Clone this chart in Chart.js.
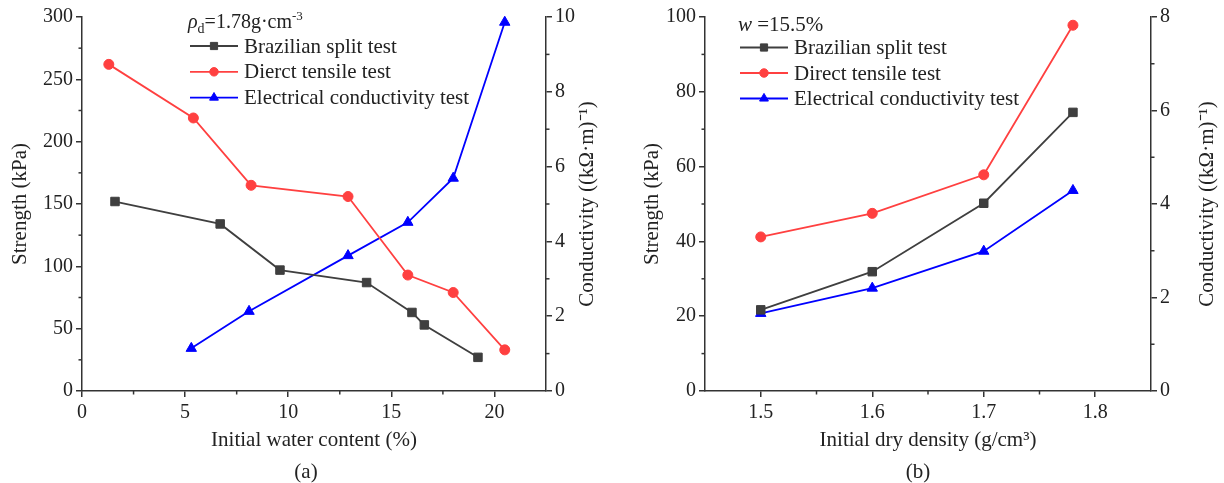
<!DOCTYPE html>
<html>
<head>
<meta charset="utf-8">
<script src="https://cdn.jsdelivr.net/npm/chart.js@4.4.1/dist/chart.umd.min.js"></script>
<style>
  body { margin: 0; background: #fff; }
  #wrap { position: relative; width: 1224px; height: 483px; overflow: hidden; }
  #wrap canvas { position: absolute; top: 0; }
  #chart-a { left: 0; }
  #chart-b { left: 612px; }
</style>
</head>
<body>
<div id="wrap">
  <canvas id="chart-a" width="612" height="483"></canvas>
  <canvas id="chart-b" width="612" height="483"></canvas>
</div>
<script>
// (a) dry density fixed at 1.78 g/cm3, water content varied
const waterBrazilian = [1.6, 6.7, 9.6, 13.8, 16.0, 16.6, 19.2];
const strengthBrazilianA = [152, 134, 97, 87, 63, 53, 27];
const waterTensile = [1.3, 5.4, 8.2, 12.9, 15.8, 18.0, 20.5];
const strengthTensileA = [262, 219, 165, 156, 93, 79, 33];
const waterConductivity = [5.3, 8.1, 12.9, 15.8, 18.0, 20.5];
const conductivityA = [1.14, 2.13, 3.62, 4.51, 5.69, 9.86];

// (b) water content fixed at 15.5 %, dry density varied
const dryDensity = [1.5, 1.6, 1.7, 1.78];
const strengthBrazilianB = [21.7, 31.9, 50.2, 74.5];
const strengthTensileB = [41.2, 47.5, 57.8, 97.8];
const conductivityB = [1.66, 2.2, 2.99, 4.29];

const serif = "'Liberation Serif', 'Times New Roman', serif";
Chart.defaults.font.family = serif;
Chart.defaults.color = '#222';

const AXIS = '#333';
const GRAY = '#3f3f3f';
const RED = '#ff4040';
const BLUE = '#0000ff';

const pairs = (xs, ys) => xs.map((x, i) => ({ x: x, y: ys[i] }));

function series(label, points, color, style, radius, axis) {
  return {
    label: label,
    data: points,
    yAxisID: axis,
    borderColor: color,
    backgroundColor: color,
    pointBackgroundColor: color,
    pointBorderColor: color,
    pointStyle: style,
    pointRadius: radius,
    pointBorderWidth: 1,
    borderWidth: 1.8,
    tension: 0,
    clip: false,
  };
}

function axis(position, min, max, step, width, fmt, title) {
  const s = {
    type: 'linear',
    position: position,
    min: min,
    max: max,
    border: { display: true, color: AXIS, width: 1.5 },
    grid: { display: true, drawOnChartArea: false, drawTicks: true, tickLength: 6, color: AXIS, tickColor: AXIS, lineWidth: 1.5 },
    ticks: { stepSize: step, includeBounds: false, autoSkip: false, maxRotation: 0, padding: 3, color: '#222', font: { size: 20 }, callback: fmt },
    // major ticks on whole multiples of the step, whatever the axis ends are
    afterBuildTicks: sc => {
      const out = [];
      for (let k = Math.ceil(min / step - 1e-6); k * step <= max + 1e-9; k++) {
        out.push({ value: +(k * step).toFixed(6) });
      }
      sc.ticks = out;
    },
  };
  if (position === 'bottom') {
    s.afterFit = sc => { sc.height = width; };
    s.ticks.padding = 4;
  } else {
    s.afterFit = sc => { sc.width = width; };
  }
  if (title) s.title = title;
  return s;
}

// short unlabeled ticks between the major ones
const minorTicks = {
  id: 'minorTicks',
  afterDraw(chart, args, opts) {
    const ctx = chart.ctx, a = chart.chartArea;
    ctx.save();
    ctx.strokeStyle = AXIS;
    ctx.lineWidth = 1.5;
    Object.keys(opts.steps || {}).forEach(id => {
      const sc = chart.scales[id], step = opts.steps[id], major = sc.options.ticks.stepSize;
      for (let k = Math.ceil(sc.min / step - 1e-6); k * step <= sc.max + 1e-9; k++) {
        const v = k * step;
        if (Math.abs(v / major - Math.round(v / major)) < 1e-6) continue;
        if (Math.abs(v - sc.min) < 1e-9 || Math.abs(v - sc.max) < 1e-9) continue;
        const p = sc.getPixelForValue(v);
        ctx.beginPath();
        if (sc.position === 'bottom') { ctx.moveTo(p, a.bottom); ctx.lineTo(p, a.bottom + 3.5); }
        else if (sc.position === 'left') { ctx.moveTo(a.left, p); ctx.lineTo(a.left - 3.5, p); }
        else { ctx.moveTo(a.right, p); ctx.lineTo(a.right + 3.5, p); }
        ctx.stroke();
      }
    });
    ctx.restore();
  }
};

// right-hand axis title, read bottom to top
const sideTitle = {
  id: 'sideTitle',
  afterDraw(chart, args, opts) {
    const ctx = chart.ctx, a = chart.chartArea;
    ctx.save();
    ctx.translate(opts.x, (a.top + a.bottom) / 2);
    ctx.rotate(-Math.PI / 2);
    ctx.font = '21px ' + serif;
    ctx.fillStyle = '#222';
    ctx.textAlign = 'center';
    ctx.textBaseline = 'middle';
    ctx.fillText(opts.text, 0, 0);
    ctx.restore();
  }
};

function drawRich(ctx, x, y, parts) {
  parts.forEach(p => {
    ctx.font = (p.italic ? 'italic ' : '') + (p.size || 20) + 'px ' + serif;
    ctx.fillText(p.t, x, y + (p.dy || 0));
    x += ctx.measureText(p.t).width;
  });
}

// legend inside the plot: header line, then one row per dataset
const insetLegend = {
  id: 'insetLegend',
  afterDraw(chart, args, opts) {
    const ctx = chart.ctx;
    ctx.save();
    ctx.fillStyle = '#222';
    ctx.textAlign = 'left';
    ctx.textBaseline = 'alphabetic';
    drawRich(ctx, opts.x - 2, opts.headerY, opts.header);
    chart.data.datasets.forEach((ds, i) => {
      const y = opts.top + i * opts.gap;
      ctx.strokeStyle = ds.borderColor;
      ctx.lineWidth = ds.borderWidth;
      ctx.beginPath();
      ctx.moveTo(opts.x, y);
      ctx.lineTo(opts.x + 48, y);
      ctx.stroke();
      ctx.fillStyle = ds.pointBackgroundColor;
      ctx.strokeStyle = ds.pointBorderColor;
      ctx.lineWidth = 1;
      Chart.helpers.drawPoint(ctx, { pointStyle: ds.pointStyle, radius: ds.pointRadius * 0.85, rotation: 0, borderWidth: 1 }, opts.x + 24, y);
      ctx.fillStyle = '#222';
      ctx.font = '21px ' + serif;
      ctx.textBaseline = 'middle';
      ctx.fillText(ds.label, opts.x + 54, y + 1);
      ctx.textBaseline = 'alphabetic';
    });
    ctx.restore();
  }
};

const xTitle = text => ({ display: true, text: text, color: '#222', font: { size: 21 }, padding: { top: 0, bottom: 8 } });
const yTitle = (text, pad) => ({ display: true, text: text, color: '#222', font: { size: 21 }, padding: { top: pad, bottom: 0 } });
const caption = text => ({ display: true, position: 'bottom', text: text, color: '#222', font: { size: 21, weight: 'normal', lineHeight: 1 }, padding: 0 });
const oneDecimal = v => v.toFixed(1);
const plain = v => String(Math.round(v));

// (a)
new Chart(document.getElementById('chart-a'), {
  type: 'line',
  data: {
    datasets: [
      series('Brazilian split test', pairs(waterBrazilian, strengthBrazilianA), GRAY, 'rect', 6, 'y'),
      series('Dierct tensile test', pairs(waterTensile, strengthTensileA), RED, 'circle', 5, 'y'),
      series('Electrical conductivity test', pairs(waterConductivity, conductivityA), BLUE, 'triangle', 6, 'y1'),
    ]
  },
  options: {
    responsive: false,
    animation: false,
    events: [],
    layout: { padding: { left: 0, top: 17, right: 0, bottom: 0.5 } },
    plugins: {
      legend: { display: false },
      tooltip: { enabled: false },
      title: caption('(a)'),
      minorTicks: { steps: { x: 2.5, y: 25, y1: 1 } },
      sideTitle: { x: 587, text: 'Conductivity ((kΩ·m)⁻¹)' },
      insetLegend: {
        x: 190, top: 46, gap: 25.8, headerY: 28,
        header: [{ t: 'ρ', italic: true }, { t: 'd', size: 14, dy: 5 }, { t: '=1.78g·cm' }, { t: '-3', size: 13, dy: -8 }],
      },
    },
    scales: {
      x: axis('bottom', 0, 22.5, 5, 70.5, plain, xTitle('Initial water content (%)')),
      y: axis('left', 0, 300, 50, 82, plain, yTitle('Strength (kPa)', 7.5)),
      y1: axis('right', 0, 10, 2, 66, plain),
    }
  },
  plugins: [minorTicks, sideTitle, insetLegend]
});

// (b)
new Chart(document.getElementById('chart-b'), {
  type: 'line',
  data: {
    datasets: [
      series('Brazilian split test', pairs(dryDensity, strengthBrazilianB), GRAY, 'rect', 6, 'y'),
      series('Direct tensile test', pairs(dryDensity, strengthTensileB), RED, 'circle', 5, 'y'),
      series('Electrical conductivity test', pairs(dryDensity, conductivityB), BLUE, 'triangle', 6, 'y1'),
    ]
  },
  options: {
    responsive: false,
    animation: false,
    events: [],
    layout: { padding: { left: 0, top: 17, right: 0, bottom: 0.5 } },
    plugins: {
      legend: { display: false },
      tooltip: { enabled: false },
      title: caption('(b)'),
      minorTicks: { steps: { x: 0.05, y: 10, y1: 1 } },
      sideTitle: { x: 595, text: 'Conductivity ((kΩ·m)⁻¹)' },
      insetLegend: {
        x: 128, top: 47.5, gap: 25.5, headerY: 31,
        header: [{ t: 'w', italic: true, size: 21 }, { t: ' =15.5%', size: 21 }],
      },
    },
    scales: {
      x: axis('bottom', 1.45, 1.85, 0.1, 70.5, oneDecimal, xTitle('Initial dry density (g/cm³)')),
      y: axis('left', 0, 100, 20, 93, plain, yTitle('Strength (kPa)', 27.5)),
      y1: axis('right', 0, 8, 2, 73, plain),
    }
  },
  plugins: [minorTicks, sideTitle, insetLegend]
});
</script>
</body>
</html>
